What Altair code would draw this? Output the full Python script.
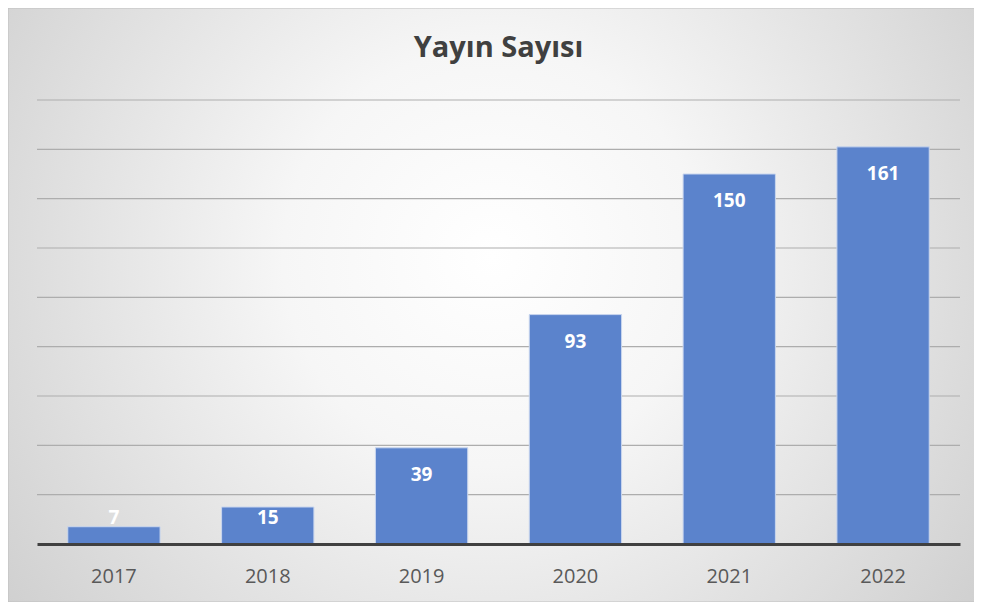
import altair as alt
import pandas as pd

title_text = "Yayın Sayısı"
years = ["2017", "2018", "2019", "2020", "2021", "2022"]
counts = [7, 15, 39, 93, 150, 161]
grid_values = [20, 40, 60, 80, 100, 120, 140, 160, 180]

df = pd.DataFrame({"year": years, "count": counts})
grid_df = pd.DataFrame({"g": grid_values})
one_df = pd.DataFrame({"t": [title_text]})

W, H = 923, 444
PAD = {"left": 29, "top": 92, "right": 14, "bottom": 58}

x_enc = alt.X(
    "year:N",
    sort=years,
    scale=alt.Scale(paddingInner=0.4, paddingOuter=0.2),
    axis=alt.Axis(
        title=None, ticks=False, labelAngle=0, labelPadding=38,
        labelBaseline="alphabetic",
        labelFontSize=20, labelColor="#595959", labelFont="Open Sans",
        domainColor="#404040", domainWidth=3, zindex=2,
    ),
)
y_scale = alt.Scale(domain=[0, 180], nice=False)

grad = alt.RadialGradient(
    gradient="radial",
    x1=0.5, y1=0.45, r1=0.0,
    x2=0.5, y2=0.45, r2=0.72,
    stops=[
        alt.GradientStop(color="#ffffff", offset=0),
        alt.GradientStop(color="#f6f6f6", offset=0.3),
        alt.GradientStop(color="#c6c6c6", offset=1),
    ],
)

bg = alt.Chart(one_df).mark_rect(fill=grad, stroke="#c0c0c0", strokeWidth=1).encode(
    x=alt.value(-PAD["left"]), x2=alt.value(W + 16),
    y=alt.value(-PAD["top"]), y2=alt.value(H + PAD["bottom"]),
)

title = alt.Chart(one_df).mark_text(
    font="Open Sans", fontSize=29, fontWeight="bold", color="#404040",
    baseline="alphabetic", align="center",
).encode(
    x=alt.value(W / 2), y=alt.value(-43), text="t:N",
)

grid = alt.Chart(grid_df).mark_rule(color="#adadad", strokeWidth=1.2).encode(
    y=alt.Y("g:Q", scale=y_scale, axis=None)
)

bars = alt.Chart(df).mark_bar(color="#5B83CC", stroke="#c9d6ee", strokeWidth=1).encode(
    x=x_enc,
    y=alt.Y("count:Q", scale=y_scale, axis=None),
)

labels = alt.Chart(df).transform_calculate(
    lpos="max(datum.count - 11, 10.6)"
).mark_text(
    color="white", fontWeight="bold", fontSize=19, font="Open Sans", baseline="middle"
).encode(
    x=alt.X("year:N", sort=years),
    y=alt.Y("lpos:Q", scale=y_scale, axis=None),
    text="count:Q",
)

chart = alt.layer(bg, title, grid, bars, labels).properties(
    width=W, height=H,
    padding=PAD,
    autosize=alt.AutoSizeParams(type="none"),
).configure_view(stroke=None)

chart.save("out.html", embed_options={"renderer": "svg", "actions": False})
